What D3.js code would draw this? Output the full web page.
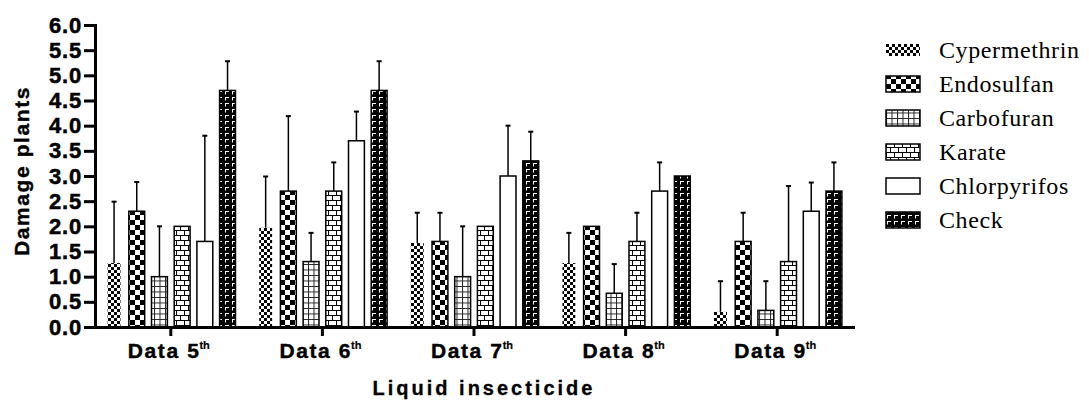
<!DOCTYPE html>
<html>
<head>
<meta charset="utf-8">
<script src="https://cdn.jsdelivr.net/npm/d3@7"></script>
<style>
  html, body { margin: 0; padding: 0; background: #fff; }
  svg { display: block; }
</style>
</head>
<body>
<svg id="chart" width="1089" height="401"></svg>
<script>
// ---- data ----
const categories = ["5", "6", "7", "8", "9"];
const seriesNames = ["Cypermethrin", "Endosulfan", "Carbofuran", "Karate", "Chlorpyrifos", "Check"];
const cypermethrin = [1.27, 1.97, 1.67, 1.27, 0.30];
const endosulfan   = [2.30, 2.70, 1.70, 2.00, 1.70];
const carbofuran   = [1.00, 1.30, 1.00, 0.67, 0.33];
const karate       = [2.00, 2.70, 2.00, 1.70, 1.30];
const chlorpyrifos = [1.70, 3.70, 3.00, 2.70, 2.30];
const check        = [4.70, 4.70, 3.30, 3.00, 2.70];
const cypermethrinErr = [1.22, 1.02, 0.60, 0.60, 0.61];
const endosulfanErr   = [0.58, 1.49, 0.57, 0.00, 0.57];
const carbofuranErr   = [1.00, 0.57, 1.00, 0.58, 0.58];
const karateErr       = [0.00, 0.57, 0.00, 0.57, 1.50];
const chlorpyrifosErr = [2.10, 0.58, 1.00, 0.57, 0.57];
const checkErr        = [0.58, 0.58, 0.58, 0.00, 0.57];
const yTicks = [0, 0.5, 1, 1.5, 2, 2.5, 3, 3.5, 4, 4.5, 5, 5.5, 6];

const values = [cypermethrin, endosulfan, carbofuran, karate, chlorpyrifos, check];
const errors = [cypermethrinErr, endosulfanErr, carbofuranErr, karateErr, chlorpyrifosErr, checkErr];

// ---- layout ----
const svg = d3.select("#chart");
const pL = 95, pR = 853, pT = 25, pB = 327;
const x0 = d3.scaleBand().domain(categories).range([pL, pR]).padding(0);
const x1 = d3.scaleBand().domain(seriesNames).range([0, x0.bandwidth()]).paddingInner(0.3).paddingOuter(0.49);
const y = d3.scaleLinear().domain([0, 6]).range([pB, pT]);

// ---- patterns ----
const defs = svg.append("defs");
function pat(id, w, h, build) {
  const p = defs.append("pattern").attr("id", id).attr("patternUnits", "userSpaceOnUse")
    .attr("width", w).attr("height", h);
  build(p);
}
pat("p0", 6, 6, p => {
  p.append("rect").attr("width", 6).attr("height", 6).attr("fill", "#fff");
  p.append("rect").attr("width", 3).attr("height", 3).attr("fill", "#000");
  p.append("rect").attr("x", 3).attr("y", 3).attr("width", 3).attr("height", 3).attr("fill", "#000");
});
pat("p1", 10, 10, p => {
  p.append("rect").attr("width", 10).attr("height", 10).attr("fill", "#fff");
  p.append("rect").attr("width", 5).attr("height", 5).attr("fill", "#000");
  p.append("rect").attr("x", 5).attr("y", 5).attr("width", 5).attr("height", 5).attr("fill", "#000");
});
pat("p2", 5.5, 5.5, p => {
  p.append("rect").attr("width", 5.5).attr("height", 5.5).attr("fill", "#fff");
  p.append("path").attr("d", "M0,0.5H5.5M0.5,0V5.5").attr("stroke", "#222").attr("stroke-width", 1);
});
pat("p3", 8, 10, p => {
  p.append("rect").attr("width", 8).attr("height", 10).attr("fill", "#fff");
  p.append("path").attr("d", "M0,0.5H8M0,5.5H8M0.5,0V5.5M4.5,5.5V10").attr("stroke", "#000").attr("stroke-width", 1);
});
pat("p4", 10, 10, p => {
  p.append("rect").attr("width", 10).attr("height", 10).attr("fill", "#fff");
});
pat("p5", 7, 6, p => {
  p.append("rect").attr("width", 7).attr("height", 6).attr("fill", "#000");
  p.append("path").attr("d", "M1,1.5H5M1.5,1V4.5").attr("stroke", "#fff").attr("stroke-width", 1);
});

// ---- bars ----
const rows = [];
categories.forEach((c, ci) => {
  seriesNames.forEach((s, si) => {
    rows.push({ c, s, si, v: values[si][ci], e: errors[si][ci] });
  });
});

const g = svg.append("g");
const eb = g.selectAll("g.err").data(rows.filter(d => d.e > 0)).join("g").attr("class", "err");
eb.append("line")
  .attr("x1", d => x0(d.c) + x1(d.s) + x1.bandwidth() / 2)
  .attr("x2", d => x0(d.c) + x1(d.s) + x1.bandwidth() / 2)
  .attr("y1", d => y(d.v))
  .attr("y2", d => y(d.v + d.e))
  .attr("stroke", "#000").attr("stroke-width", 1.5);
eb.append("line")
  .attr("x1", d => x0(d.c) + x1(d.s) + x1.bandwidth() / 2 - 2.5)
  .attr("x2", d => x0(d.c) + x1(d.s) + x1.bandwidth() / 2 + 2.5)
  .attr("y1", d => y(d.v + d.e))
  .attr("y2", d => y(d.v + d.e))
  .attr("stroke", "#000").attr("stroke-width", 2);

g.selectAll("rect.bar").data(rows).join("rect").attr("class", "bar")
  .attr("x", d => x0(d.c) + x1(d.s) + (d.si === 0 ? 1.5 : 0))
  .attr("width", d => x1.bandwidth() - (d.si === 0 ? 3 : 0))
  .attr("y", d => y(d.v))
  .attr("height", d => y(0) - y(d.v))
  .attr("fill", d => `url(#p${d.si})`)
  .attr("stroke", d => d.si === 0 ? "none" : "#000")
  .attr("stroke-width", 1.5);

// ---- axes ----
const sans = "'Liberation Sans', Arial, sans-serif";
const yAxis = svg.append("g").attr("transform", `translate(${pL},0)`)
  .call(d3.axisLeft(y).tickValues(yTicks).tickFormat(d3.format(".1f")).tickSize(11).tickSizeOuter(0));
yAxis.select(".domain").attr("stroke-width", 3).attr("d", `M0.5,${pB}V${pT - 1}`);
yAxis.selectAll(".tick line").attr("stroke-width", 3);
yAxis.selectAll(".tick text")
  .attr("x", -13)
  .attr("font-family", sans)
  .attr("font-weight", "bold").attr("font-size", 22)
  .attr("letter-spacing", 0.8).attr("fill", "#000")
  .attr("stroke", "#000").attr("stroke-width", 0.5);

const xAxis = svg.append("g").attr("transform", `translate(0,${pB})`)
  .call(d3.axisBottom(x0).tickSize(9).tickSizeOuter(0).tickFormat(""));
xAxis.select(".domain").attr("stroke-width", 3).attr("d", `M${pL - 1},0.5H${pR + 2}`);
xAxis.selectAll(".tick line").attr("stroke-width", 3);

const xl = svg.append("g").selectAll("text").data(categories).join("text")
  .attr("x", d => x0(d) + x0.bandwidth() / 2 - 2)
  .attr("y", 358)
  .attr("text-anchor", "middle")
  .attr("font-family", sans)
  .attr("font-weight", "bold").attr("font-size", 21).attr("letter-spacing", 1.6)
  .attr("stroke", "#000").attr("stroke-width", 0.4);
xl.append("tspan").text(d => "Data " + d);
xl.append("tspan").attr("font-size", 11).attr("dy", -9).attr("dx", -1).attr("letter-spacing", 0)
  .attr("stroke-width", 0.2).text("th");

// axis titles
svg.append("text")
  .attr("transform", "translate(29,171) rotate(-90)")
  .attr("text-anchor", "middle")
  .attr("font-family", sans)
  .attr("font-weight", "bold").attr("font-size", 21).attr("letter-spacing", 1.6)
  .attr("stroke", "#000").attr("stroke-width", 0.4)
  .text("Damage plants");

svg.append("text")
  .attr("x", 484).attr("y", 395)
  .attr("text-anchor", "middle")
  .attr("font-family", sans)
  .attr("font-weight", "bold").attr("font-size", 20).attr("letter-spacing", 3)
  .attr("stroke", "#000").attr("stroke-width", 0.3)
  .text("Liquid insecticide");

// ---- legend ----
const lg = svg.append("g").selectAll("g").data(seriesNames).join("g")
  .attr("transform", (d, i) => `translate(886,${50 + i * 34})`);
lg.append("rect")
  .attr("x", 0).attr("y", (d, i) => i === 0 ? -6 : -8)
  .attr("width", 34).attr("height", (d, i) => i === 0 ? 12 : 16)
  .attr("fill", (d, i) => `url(#p${i})`)
  .attr("stroke", (d, i) => i === 0 ? "none" : "#000").attr("stroke-width", 1.5);
lg.append("text")
  .attr("x", 53).attr("y", 0).attr("dy", "0.35em")
  .attr("font-family", "'Liberation Serif', 'Times New Roman', serif")
  .attr("font-size", 24).attr("letter-spacing", 0.6)
  .text(d => d);
</script>
</body>
</html>
